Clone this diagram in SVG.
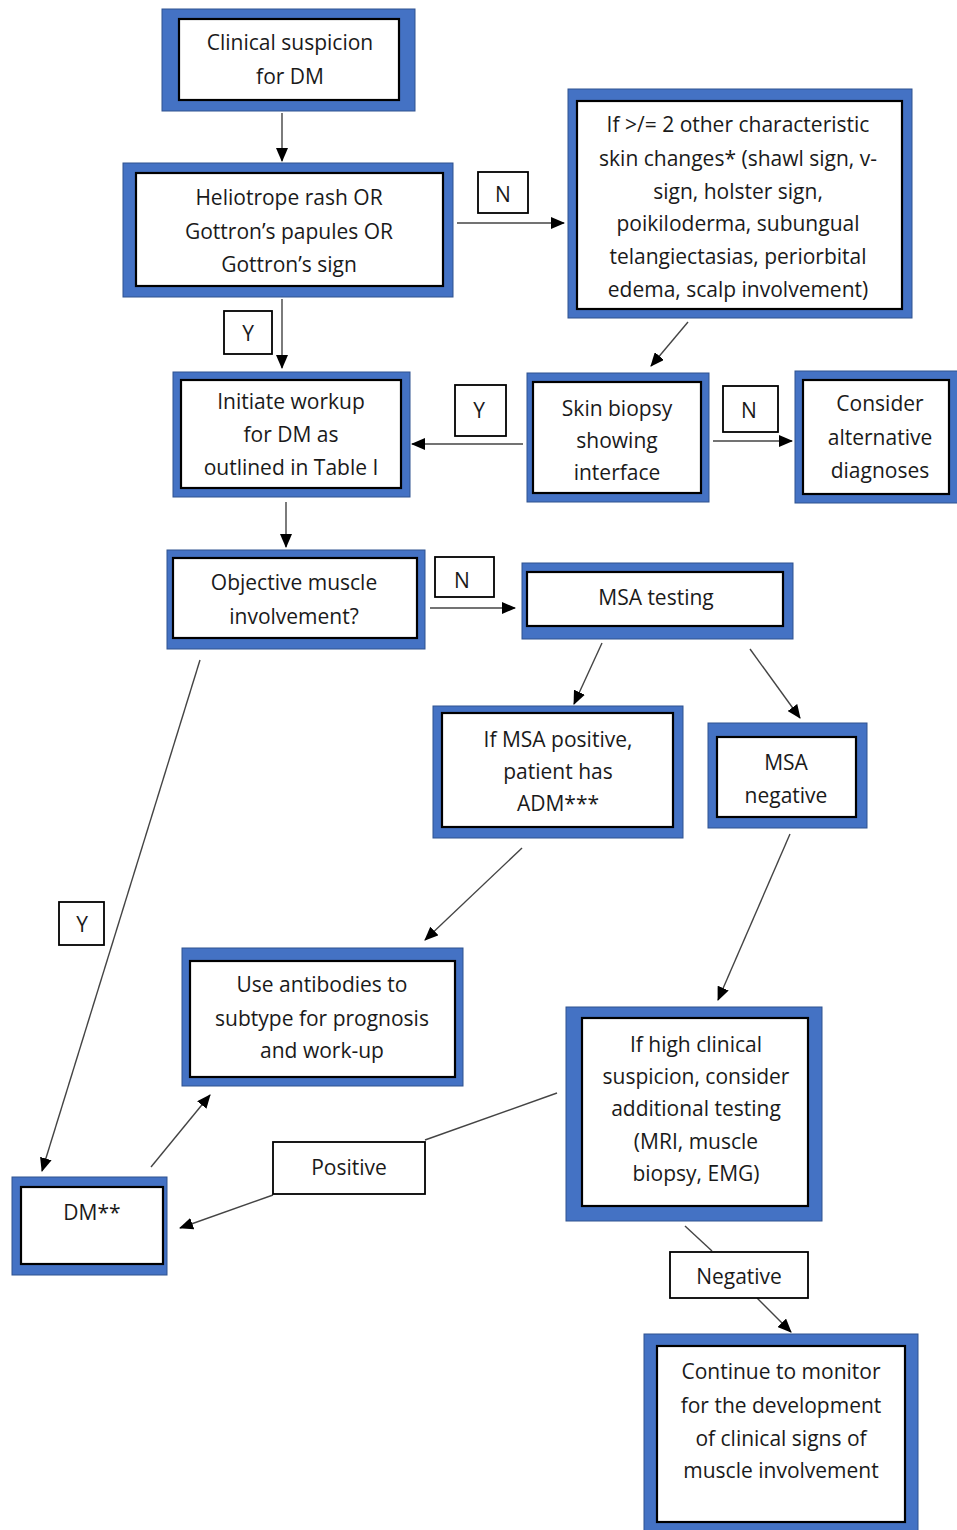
<svg xmlns="http://www.w3.org/2000/svg" width="957" height="1530" viewBox="0 0 957 1530">
<style>
.outer{fill:#4472C4;stroke:#2F528F;stroke-width:1}
.inner{fill:#fff;stroke:#000;stroke-width:2.2}
.lbl{fill:#fff;stroke:#000;stroke-width:1.8}
text{font-family:"Open Sans","Noto Sans","DejaVu Sans",sans-serif;font-size:21px;fill:#1a1a1a;text-anchor:middle;dominant-baseline:central}
.conn line,.conn polyline{stroke:#444;stroke-width:1.4;fill:none}
.arr{marker-end:url(#ah)}
</style>
<defs>
<marker id="ah" markerWidth="14" markerHeight="12" refX="13" refY="6" orient="auto" markerUnits="userSpaceOnUse">
<path d="M0,0 L14,6 L0,12 Z" fill="#000"/>
</marker>
</defs>
<rect width="957" height="1530" fill="#fff"/>

<g class="conn" id="connectors">
<line class="arr" x1="282" y1="113" x2="282" y2="161"/>
<line class="arr" x1="457" y1="223" x2="564" y2="223"/>
<line class="arr" x1="282" y1="299" x2="282" y2="368"/>
<line class="arr" x1="688" y1="322" x2="651" y2="366"/>
<line class="arr" x1="523" y1="444" x2="412" y2="444"/>
<line class="arr" x1="713" y1="441" x2="792" y2="441"/>
<line class="arr" x1="286" y1="502" x2="286" y2="547"/>
<line class="arr" x1="430" y1="608" x2="515" y2="608"/>
<line class="arr" x1="602" y1="643" x2="574" y2="704"/>
<line class="arr" x1="750" y1="649" x2="800" y2="718"/>
<line class="arr" x1="522" y1="848" x2="425" y2="940"/>
<line class="arr" x1="790" y1="834" x2="718" y2="1000"/>
<line class="arr" x1="200" y1="660" x2="42" y2="1171"/>
<line class="arr" x1="151" y1="1167" x2="210" y2="1095"/>
<line x1="557" y1="1093" x2="425" y2="1140"/>
<line class="arr" x1="273" y1="1195" x2="180" y2="1228"/>
<line x1="685" y1="1226" x2="712" y2="1251"/>
<line class="arr" x1="757" y1="1298" x2="791" y2="1332"/>
</g>

<g id="n_clinical">
<rect class="outer" x="162" y="9" width="253" height="102"/>
<rect class="inner" x="179" y="19" width="220" height="81"/>
<text x="290" y="42">Clinical suspicion</text>
<text x="290" y="76">for DM</text>
</g>

<g id="n_heliotrope">
<rect class="outer" x="123" y="163" width="330" height="134"/>
<rect class="inner" x="136" y="173" width="307" height="113"/>
<text x="289" y="197">Heliotrope rash OR</text>
<text x="289" y="231">Gottron’s papules OR</text>
<text x="289" y="264">Gottron’s sign</text>
</g>

<g id="n_skin_changes">
<rect class="outer" x="568" y="89" width="344" height="229"/>
<rect class="inner" x="577" y="101" width="325" height="208"/>
<text x="738" y="124">If &gt;/= 2 other characteristic</text>
<text x="738" y="158">skin changes* (shawl sign, v-</text>
<text x="738" y="191">sign, holster sign,</text>
<text x="738" y="223">poikiloderma, subungual</text>
<text x="738" y="256">telangiectasias, periorbital</text>
<text x="738" y="289">edema, scalp involvement)</text>
</g>

<g id="n_initiate">
<rect class="outer" x="173" y="372" width="237" height="125"/>
<rect class="inner" x="181" y="380" width="220" height="108"/>
<text x="291" y="401">Initiate workup</text>
<text x="291" y="434">for DM as</text>
<text x="291" y="467">outlined in Table I</text>
</g>

<g id="n_skin_biopsy">
<rect class="outer" x="527" y="373" width="182" height="129"/>
<rect class="inner" x="533" y="382" width="168" height="111"/>
<text x="617" y="408">Skin biopsy</text>
<text x="617" y="440">showing</text>
<text x="617" y="472">interface</text>
</g>

<g id="n_consider">
<rect class="outer" x="795" y="371" width="170" height="132"/>
<rect class="inner" x="803" y="380" width="146" height="114"/>
<text x="880" y="403">Consider</text>
<text x="880" y="437">alternative</text>
<text x="880" y="470">diagnoses</text>
</g>

<g id="n_objective">
<rect class="outer" x="167" y="550" width="258" height="99"/>
<rect class="inner" x="173" y="558" width="244" height="80"/>
<text x="294" y="582">Objective muscle</text>
<text x="294" y="616">involvement?</text>
</g>

<g id="n_msa_testing">
<rect class="outer" x="522" y="563" width="271" height="76"/>
<rect class="inner" x="527" y="572" width="256" height="54"/>
<text x="656" y="597">MSA testing</text>
</g>

<g id="n_msa_positive">
<rect class="outer" x="433" y="706" width="250" height="132"/>
<rect class="inner" x="442" y="713" width="231" height="114"/>
<text x="558" y="739">If MSA positive,</text>
<text x="558" y="771">patient has</text>
<text x="558" y="803">ADM***</text>
</g>

<g id="n_msa_negative">
<rect class="outer" x="708" y="723" width="159" height="105"/>
<rect class="inner" x="717" y="737" width="139" height="80"/>
<text x="786" y="762">MSA</text>
<text x="786" y="795">negative</text>
</g>

<g id="n_antibodies">
<rect class="outer" x="182" y="948" width="281" height="138"/>
<rect class="inner" x="190" y="961" width="265" height="116"/>
<text x="322" y="984">Use antibodies to</text>
<text x="322" y="1018">subtype for prognosis</text>
<text x="322" y="1050">and work-up</text>
</g>

<g id="n_high_suspicion">
<rect class="outer" x="566" y="1007" width="256" height="214"/>
<rect class="inner" x="582" y="1018" width="226" height="188"/>
<text x="696" y="1044">If high clinical</text>
<text x="696" y="1076">suspicion, consider</text>
<text x="696" y="1108">additional testing</text>
<text x="696" y="1141">(MRI, muscle</text>
<text x="696" y="1173">biopsy, EMG)</text>
</g>

<g id="n_dm">
<rect class="outer" x="12" y="1177" width="155" height="98"/>
<rect class="inner" x="21" y="1187" width="142" height="77"/>
<text x="92" y="1212">DM**</text>
</g>

<g id="n_monitor">
<rect class="outer" x="644" y="1334" width="274" height="200"/>
<rect class="inner" x="657" y="1346" width="248" height="176"/>
<text x="781" y="1371">Continue to monitor</text>
<text x="781" y="1405">for the development</text>
<text x="781" y="1438">of clinical signs of</text>
<text x="781" y="1470">muscle involvement</text>
</g>

<g id="labels">
<g id="l_n1"><rect class="lbl" x="478" y="172" width="50" height="41"/><text x="503" y="194">N</text></g>
<g id="l_y1"><rect class="lbl" x="224" y="311" width="48" height="43"/><text x="248" y="333">Y</text></g>
<g id="l_y2"><rect class="lbl" x="455" y="385" width="51" height="51"/><text x="479" y="410">Y</text></g>
<g id="l_n2"><rect class="lbl" x="723" y="386" width="55" height="46"/><text x="749" y="410">N</text></g>
<g id="l_n3"><rect class="lbl" x="435" y="557" width="59" height="40"/><text x="462" y="580">N</text></g>
<g id="l_y3"><rect class="lbl" x="59" y="902" width="45" height="43"/><text x="82" y="924">Y</text></g>
<g id="l_pos"><rect class="lbl" x="273" y="1142" width="152" height="52"/><text x="349" y="1167">Positive</text></g>
<g id="l_neg"><rect class="lbl" x="670" y="1252" width="138" height="46"/><text x="739" y="1276">Negative</text></g>
</g>
</svg>
